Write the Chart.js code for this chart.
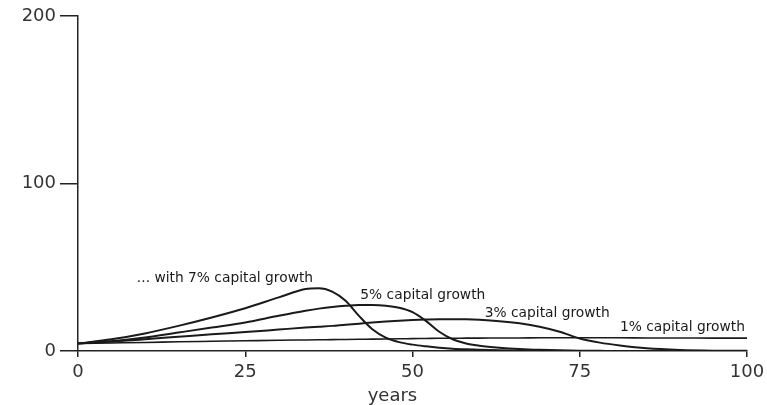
<!DOCTYPE html>
<html>
<head>
<meta charset="utf-8">
<script src="https://cdn.jsdelivr.net/npm/chart.js@4.4.1/dist/chart.umd.min.js"></script>
<style>
  body { margin: 0; background: #fff; }
  #wrap { width: 767px; height: 405px; }
</style>
</head>
<body>
<div id="wrap"><canvas id="myChart" width="767" height="405"></canvas></div>
<script>
// years on the x axis (shared by all four curves)
const years = [0, 5, 10, 15, 20, 25, 30, 34, 36, 38, 40, 42, 44, 46, 48, 50, 52, 54, 56, 58, 60, 63, 66, 69, 72, 75, 78, 81, 85, 90, 95, 100];

const growth7 = [4.5, 7, 10.5, 15, 20, 25.5, 32, 37, 37.5, 35.5, 30, 21, 13, 8, 5.3, 3.8, 2.8, 2, 1.4, 1, 0.7, 0.4, 0.2, 0.1, 0, 0, 0, 0, 0, 0, 0, 0];
const growth5 = [4.5, 5.8, 8, 11, 14, 17, 21, 24, 25.3, 26.3, 27, 27.4, 27.4, 27, 25.8, 23.2, 18, 11.5, 7, 4.5, 3.2, 2, 1.2, 0.7, 0.4, 0.2, 0.1, 0, 0, 0, 0, 0];
const growth3 = [4.5, 5.6, 7, 8.5, 10, 11.3, 12.8, 14, 14.5, 15, 15.7, 16.3, 17, 17.6, 18.1, 18.5, 18.8, 19, 19, 18.9, 18.6, 17.8, 16.5, 14.5, 11.5, 7.5, 5, 3.3, 1.6, 0.6, 0.2, 0.1];
const growth1 = [4.5, 4.8, 5.1, 5.5, 5.8, 6.1, 6.4, 6.6, 6.7, 6.8, 6.9, 7, 7.1, 7.2, 7.3, 7.4, 7.5, 7.6, 7.6, 7.7, 7.7, 7.8, 7.8, 7.9, 7.9, 7.9, 7.9, 7.9, 7.8, 7.8, 7.7, 7.7];

const seriesLabels = ['... with 7% capital growth', '5% capital growth', '3% capital growth', '1% capital growth'];
const xTicks = [0, 25, 50, 75, 100];
const yTicks = [0, 100, 200];

function toPoints(values) {
  return values.map((v, i) => ({ x: years[i], y: v }));
}

// where each curve's label sits, in data units (left edge, middle)
const labelSpots = [[8.8, 43.5], [42.2, 33.3], [60.8, 22.6], [81, 14.3]];

const labelPlugin = {
  id: 'curveLabels',
  afterDatasetsDraw(chart) {
    const ctx = chart.ctx;
    const xs = chart.scales.x;
    const ys = chart.scales.y;
    ctx.save();
    ctx.fillStyle = '#1a1a1a';
    ctx.font = '13.8px "DejaVu Sans"';
    ctx.textAlign = 'left';
    ctx.textBaseline = 'middle';
    seriesLabels.forEach((txt, i) => {
      ctx.fillText(txt, xs.getPixelForValue(labelSpots[i][0]), ys.getPixelForValue(labelSpots[i][1]));
    });
    // axis title "years"
    ctx.font = '18px "DejaVu Sans"';
    ctx.fillStyle = '#333';
    ctx.textAlign = 'center';
    ctx.fillText('years', xs.getPixelForValue(47), chart.chartArea.bottom + 45);
    ctx.restore();
  }
};

const lineStyle = {
  borderColor: '#1a1a1a',
  borderWidth: 2,
  pointRadius: 0,
  cubicInterpolationMode: 'monotone',
  fill: false
};

const ctx = document.getElementById('myChart');
let myChart = new Chart(ctx, {
  type: 'line',
  data: {
    datasets: [
      Object.assign({ label: seriesLabels[0], data: toPoints(growth7) }, lineStyle),
      Object.assign({ label: seriesLabels[1], data: toPoints(growth5) }, lineStyle),
      Object.assign({ label: seriesLabels[2], data: toPoints(growth3) }, lineStyle),
      Object.assign({ label: seriesLabels[3], data: toPoints(growth1) }, lineStyle, { borderWidth: 1.6 })
    ]
  },
  options: {
    responsive: false,
    animation: false,
    layout: { padding: { left: 0, top: 16, right: 20, bottom: 0 } },
    plugins: {
      legend: { display: false },
      tooltip: { enabled: false }
    },
    scales: {
      x: {
        type: 'linear',
        min: 0,
        max: 100,
        afterBuildTicks: s => { s.ticks = xTicks.map(v => ({ value: v })); },
        afterFit: s => { s.height = 54; s.paddingRight = 0; },
        grid: { drawOnChartArea: false, color: '#222', tickLength: 6, lineWidth: 1.5 },
        border: { color: '#222', width: 1.5 },
        ticks: { color: '#333', font: { family: 'DejaVu Sans', size: 18 }, padding: 5, maxRotation: 0 }
      },
      y: {
        min: 0,
        max: 200,
        afterBuildTicks: s => { s.ticks = yTicks.map(v => ({ value: v })); },
        afterFit: s => { s.width = 78; },
        grid: { drawOnChartArea: false, color: '#222', tickLength: 18, lineWidth: 1.5 },
        border: { color: '#222', width: 1.5 },
        ticks: { color: '#333', font: { family: 'DejaVu Sans', size: 18 }, padding: 4 }
      }
    }
  },
  plugins: [labelPlugin]
});
</script>
</body>
</html>
